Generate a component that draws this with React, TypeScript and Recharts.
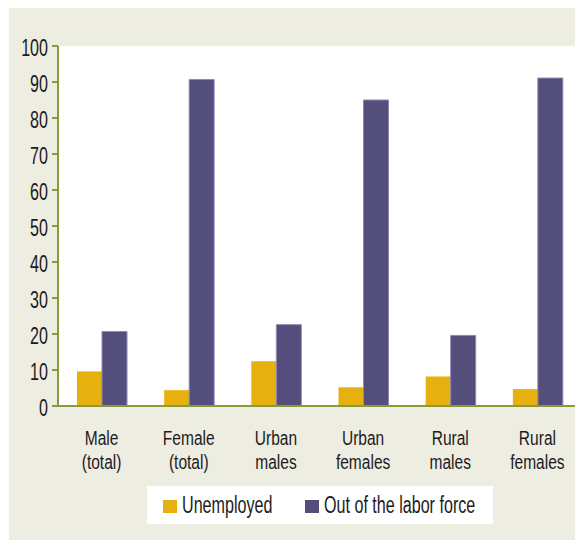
import React from 'react';
import { BarChart, Bar, XAxis, YAxis, CartesianGrid } from 'recharts';

const categories = ['Male\n(total)', 'Female\n(total)', 'Urban\nmales', 'Urban\nfemales', 'Rural\nmales', 'Rural\nfemales'];
const unemployed = [9.6, 4.4, 12.4, 5.2, 8.2, 4.7];
const outOfLaborForce = [20.7, 90.7, 22.6, 85.0, 19.6, 91.1];
const yTicks = [0, 10, 20, 30, 40, 50, 60, 70, 80, 90, 100];
const seriesNames = ['Unemployed', 'Out of the labor force'];

const FONT = '"Liberation Sans", "Open Sans", sans-serif';
const FS = 23;
const SQUEEZE = 0.7; // the original uses a condensed face
const ORANGE = '#e6b00e';
const PURPLE = '#544e7c';
const GREEN = '#8a9a3a';
const BG = '#ededE2';
const TXT = '#1e1b1c';

const data = categories.map((name, i) => ({
  name,
  unemployed: unemployed[i],
  out: outOfLaborForce[i],
}));

const CategoryTick = (props: any) => {
  const { x, y, payload } = props;
  const lines = String(payload.value).split('\n');
  return (
    <g transform={`translate(${x},${y})`}>
      <text transform="scale(0.74,1)" textAnchor="middle" fill={TXT} fontSize={21} fontFamily={FONT}>
        {lines.map((l, i) => (
          <tspan key={i} x={0} dy={i === 0 ? 31 : 24}>{l}</tspan>
        ))}
      </text>
    </g>
  );
};

const ValueTick = (props: any) => {
  const { x, y, payload } = props;
  return (
    <g transform={`translate(${x - 2},${y})`}>
      <text transform={`scale(${SQUEEZE},1)`} dy={10} textAnchor="end" fill={TXT} fontSize={FS} fontFamily={FONT}>
        {payload.value}
      </text>
    </g>
  );
};

const legendText: React.CSSProperties = {
  position: 'absolute',
  top: 5,
  whiteSpace: 'nowrap',
  fontFamily: FONT,
  fontSize: FS,
  lineHeight: '28px',
  color: TXT,
  transform: `scaleX(${SQUEEZE})`,
  transformOrigin: 'left center',
};

export default function App() {
  return (
    <div style={{ position: 'relative', width: 575, height: 532, background: BG, marginLeft: 1 }}>
      <BarChart
        width={575}
        height={532}
        data={data}
        margin={{ top: 38, right: 3, left: 0, bottom: 74 }}
        barGap={0}
        barSize={25}
      >
        <CartesianGrid fill="#fff" stroke="none" horizontal={false} vertical={false} />
        <XAxis
          dataKey="name"
          axisLine={{ stroke: GREEN, strokeWidth: 2 }}
          tickLine={false}
          tick={<CategoryTick />}
          interval={0}
          height={60}
        />
        <YAxis
          domain={[0, 100]}
          ticks={yTicks}
          width={49}
          axisLine={{ stroke: GREEN, strokeWidth: 2 }}
          tickLine={{ stroke: GREEN, strokeWidth: 2 }}
          tickSize={6}
          tick={<ValueTick />}
        />
        <Bar dataKey="unemployed" name={seriesNames[0]} fill={ORANGE} isAnimationActive={false} />
        <Bar dataKey="out" name={seriesNames[1]} fill={PURPLE} stroke="#8f89b3" strokeWidth={1} isAnimationActive={false} />
      </BarChart>
      <div style={{ position: 'absolute', left: 138, top: 478, width: 346, height: 38, background: '#fff' }}>
        <span style={{ position: 'absolute', left: 16, top: 14, width: 14, height: 13, background: ORANGE }} />
        <span style={{ ...legendText, left: 35 }}>{seriesNames[0]}</span>
        <span style={{ position: 'absolute', left: 158, top: 14, width: 14, height: 13, background: PURPLE }} />
        <span style={{ ...legendText, left: 177 }}>{seriesNames[1]}</span>
      </div>
    </div>
  );
}
